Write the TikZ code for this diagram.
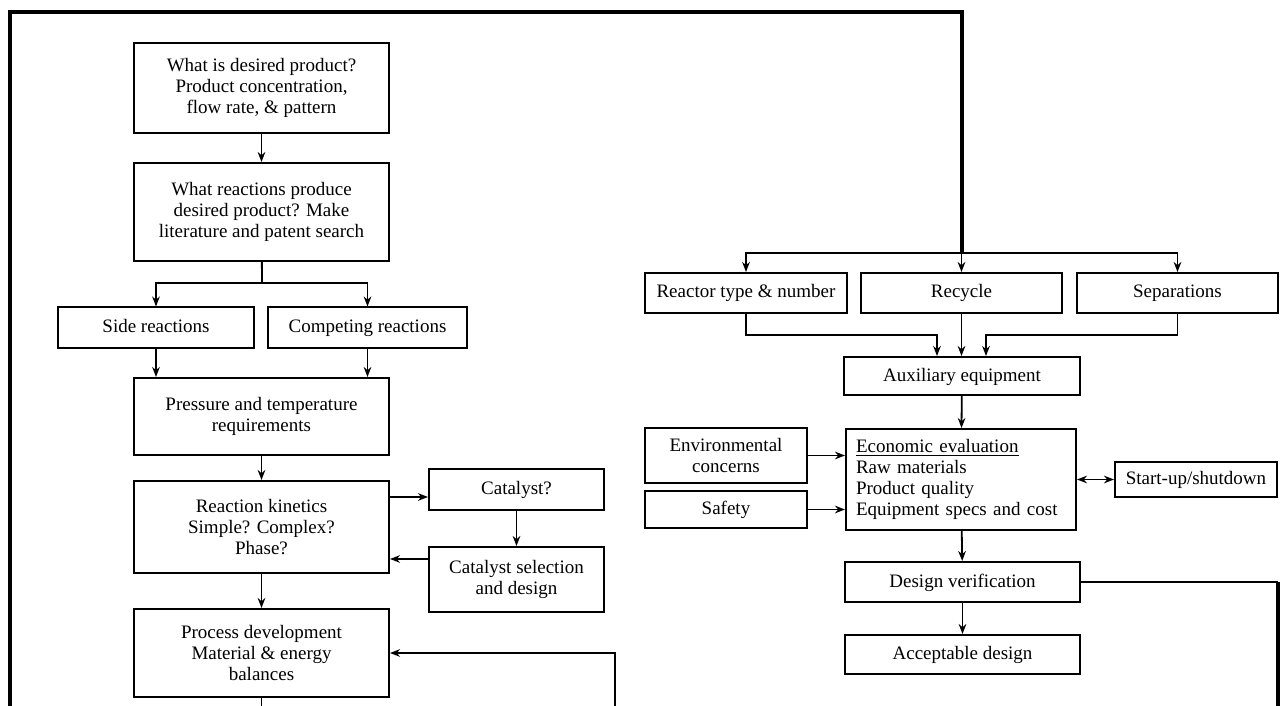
\documentclass[tikz,border=0pt]{standalone}
\usepackage{fontspec}
\setmainfont{Liberation Serif}
\usetikzlibrary{arrows.meta}
\begin{document}
\begin{tikzpicture}[x=0.5pt,y=-0.5pt,>={Stealth[length=5pt,width=3.8pt]}]
\tikzstyle{every node}+=[font=\fontsize{9.5}{10.5}\selectfont]
\tikzstyle{stepbox}=[draw,line width=1pt,align=center,inner sep=1pt]
\tikzstyle{onebox}=[stepbox,text height=7pt,text depth=2pt]
\tikzstyle{link}=[line width=0.9pt]
\tikzstyle{frame}=[line width=2pt]
\useasboundingbox (0,0) rectangle (1282,706);
\node [stepbox,minimum width=127.5pt,minimum height=45pt] (q1) at (261.5,88) {What is desired product?\\Product concentration,\\flow rate, \& pattern};
\node [stepbox,minimum width=127.5pt,minimum height=49pt] (q2) at (261.5,212) {What reactions produce\\desired product? Make\\literature and patent search};
\node [onebox,minimum width=98pt,minimum height=20.5pt] (side) at (156,328) {Side reactions};
\node [onebox,minimum width=99.5pt,minimum height=20.5pt] (comp) at (367.5,328) {Competing reactions};
\node [stepbox,minimum width=127.5pt,minimum height=38.5pt] (press) at (261.5,416.5) {Pressure and temperature\\requirements};
\node [stepbox,minimum width=127.5pt,minimum height=46pt] (kin) at (261.5,527) {Reaction kinetics\\Simple? Complex?\\Phase?};
\node [onebox,minimum width=87.5pt,minimum height=20.5pt] (cat) at (516.5,489.5) {Catalyst?};
\node [stepbox,minimum width=87.5pt,minimum height=32.5pt] (catsel) at (516.5,579.5) {Catalyst selection\\and design};
\node [stepbox,minimum width=127.5pt,minimum height=44pt] (proc) at (261.5,653) {Process development\\Material \& energy\\balances};
\node [onebox,minimum width=101pt,minimum height=20pt] (reactor) at (746,293) {Reactor type \& number};
\node [onebox,minimum width=100.5pt,minimum height=20pt] (recycle) at (961.5,293) {Recycle};
\node [onebox,minimum width=100.5pt,minimum height=20pt] (sep) at (1177.5,293) {Separations};
\node [onebox,minimum width=118pt,minimum height=19pt] (aux) at (962,376) {Auxiliary equipment};
\node [stepbox,text width=105pt,align=left,inner xsep=5pt,minimum height=50.5pt] (econ) at (961,479.5) {\underline{Economic evaluation}\\Raw materials\\Product quality\\Equipment specs and cost};
\node [onebox,minimum width=117.5pt,minimum height=20pt] (dver) at (962.5,582) {Design verification};
\node [onebox,minimum width=117.5pt,minimum height=19.5pt] (accept) at (962.5,654.5) {Acceptable design};
\node [stepbox,minimum width=81pt,minimum height=27.5pt] (env) at (726,455.5) {Environmental\\concerns};
\node [onebox,minimum width=81pt,minimum height=18.5pt] (safety) at (726,509.5) {Safety};
\node [onebox,minimum width=81pt,minimum height=17.5pt] (start) at (1196,479.5) {Start-up/shutdown};
\coordinate (s1) at (262,283);
\coordinate (fb) at (615,706);
\coordinate (fr) at (10,706);
\coordinate (d0) at (961.5,253);
\coordinate (m1) at (937,335);
\coordinate (m2) at (986,335);
\coordinate (rt) at (1278,582);
\draw [link,->] (q1) -- (q2);
\draw [link] (q2) -- (s1);
\draw [link,->] (s1) -| (side);
\draw [link,->] (s1) -| (comp);
\draw [link,->] (side) -- (side |- press.north);
\draw [link,->] (comp) -- (comp |- press.north);
\draw [link,->] (press) -- (kin);
\draw [link,->] (kin.east |- 0,497) -- (cat.west |- 0,497);
\draw [link,->] (cat) -- (catsel);
\draw [link,->] (catsel.west |- 0,559) -- (kin.east |- 0,559);
\draw [link,->] (kin) -- (proc);
\draw [link,->] (fb) |- (proc.east);
\draw [link] (proc) -- (proc.south |- fb);
\draw [frame] (fr) -- (10,12) -| (d0);
\draw [link] (reactor |- d0) -- (sep |- d0);
\draw [link,->] (d0) -| (reactor);
\draw [link,->] (d0) -- (recycle);
\draw [link,->] (d0) -| (sep);
\draw [link,->] (reactor) |- (m1) -- (m1 |- aux.north);
\draw [link,->] (recycle) -- (recycle |- aux.north);
\draw [link,->] (sep) |- (m2) -- (m2 |- aux.north);
\draw [link,->] (aux) -- (econ);
\draw [link,->] (env) -- (env -| econ.west);
\draw [link,->] (safety) -- (safety -| econ.west);
\draw [link,<->] (econ.east |- start) -- (start);
\draw [link,->] (econ) -- (dver);
\draw [link,->] (dver) -- (accept);
\draw [link] (dver) -- (rt);
\draw [frame] (rt) -- (rt |- fb);
\end{tikzpicture}
\end{document}
